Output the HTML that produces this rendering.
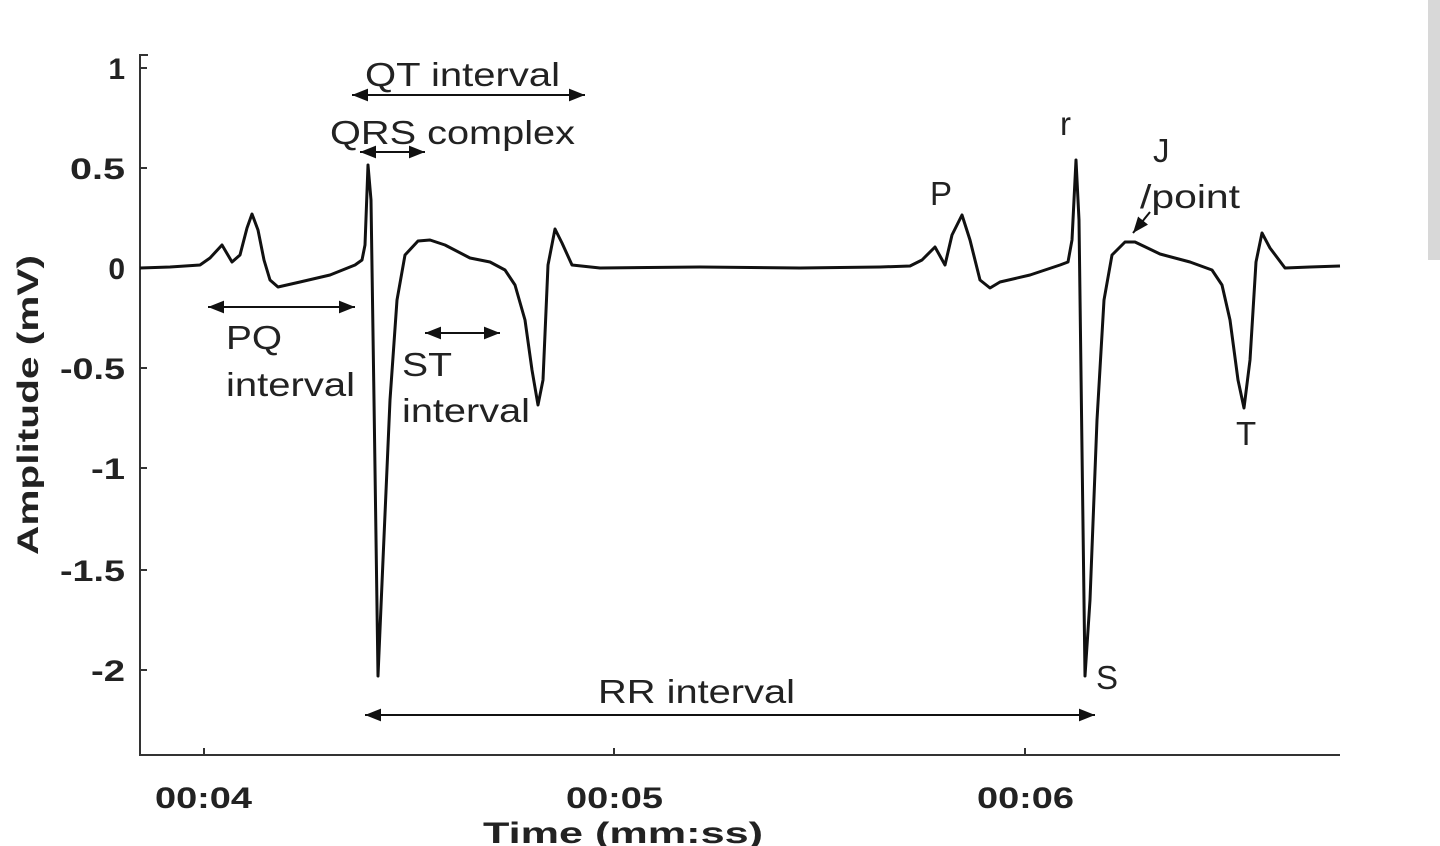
<!DOCTYPE html>
<html><head><meta charset="utf-8"><style>
html,body{margin:0;padding:0;background:#fff;}
svg{display:block;}
text{font-family:"Liberation Sans",sans-serif;fill:#222;}
.t{font-weight:bold;font-size:30px;}
.a{font-size:33px;}
</style></head><body>
<svg width="1440" height="846" viewBox="0 0 1440 846">
<defs>
<marker id="ar" viewBox="0 0 10 10" refX="10" refY="5" markerWidth="8" markerHeight="8" orient="auto-start-reverse"><path d="M0,1 L10,5 L0,9 z" fill="#111"/></marker>
</defs>
<rect x="1428" y="0" width="12" height="260" fill="#d8d8d8"/>
<path d="M148,55 L140,55 L140,755 L1340,755" fill="none" stroke="#333" stroke-width="2"/>
<g stroke="#333" stroke-width="2">
<line x1="140" y1="68" x2="147" y2="68"/><line x1="140" y1="168" x2="147" y2="168"/><line x1="140" y1="268" x2="147" y2="268"/><line x1="140" y1="368" x2="147" y2="368"/><line x1="140" y1="468" x2="147" y2="468"/><line x1="140" y1="570" x2="147" y2="570"/><line x1="140" y1="670" x2="147" y2="670"/>
<line x1="204" y1="755" x2="204" y2="748"/><line x1="614" y1="755" x2="614" y2="748"/><line x1="1025" y1="755" x2="1025" y2="748"/>
</g>
<g text-anchor="end">
<text x="125" y="79" class="t">1</text>
<text x="125" y="179" class="t" textLength="55" lengthAdjust="spacingAndGlyphs">0.5</text>
<text x="125" y="279" class="t">0</text>
<text x="125" y="379" class="t" textLength="65" lengthAdjust="spacingAndGlyphs">-0.5</text>
<text x="125" y="479" class="t" textLength="34" lengthAdjust="spacingAndGlyphs">-1</text>
<text x="125" y="581" class="t" textLength="65" lengthAdjust="spacingAndGlyphs">-1.5</text>
<text x="125" y="681" class="t" textLength="34" lengthAdjust="spacingAndGlyphs">-2</text>
</g>
<text x="155" y="808" class="t" textLength="97" lengthAdjust="spacingAndGlyphs">00:04</text>
<text x="566" y="808" class="t" textLength="97" lengthAdjust="spacingAndGlyphs">00:05</text>
<text x="977" y="808" class="t" textLength="97" lengthAdjust="spacingAndGlyphs">00:06</text>
<text x="483" y="843" class="t" font-size="33" textLength="280" lengthAdjust="spacingAndGlyphs">Time (mm:ss)</text>
<text transform="translate(38,555) rotate(-90)" class="t" font-size="33" textLength="300" lengthAdjust="spacingAndGlyphs">Amplitude (mV)</text>
<path fill="none" stroke="#111" stroke-width="3" stroke-linejoin="round" d="M140,268 L170,267 L200,265 L210,258 L222,245 L232,262 L240,255 L247,228 L252,214 L258,230 L264,260 L270,280 L278,287 L300,282 L330,275 L355,265 L362,260 L365,245 L368,165 L371,200 L374,400 L378,676 L383,560 L390,400 L397,300 L405,255 L418,241 L430,240 L445,245 L470,258 L490,262 L505,270 L515,285 L525,320 L532,370 L538,405 L543,380 L548,265 L555,229 L562,243 L572,265 L600,268 L700,267 L800,268 L880,267 L910,266 L922,260 L935,247 L945,265 L952,235 L962,215 L970,240 L980,280 L990,288 L1000,282 L1030,275 L1060,265 L1068,262 L1072,240 L1076,160 L1079,220 L1082,450 L1085,676 L1090,600 L1097,420 L1104,300 L1112,255 L1125,242 L1135,242 L1160,254 L1190,262 L1212,270 L1222,285 L1230,320 L1238,380 L1244,408 L1250,360 L1256,262 L1262,233 L1270,248 L1285,268 L1310,267 L1340,266"/>
<g stroke="#111" stroke-width="2" fill="none">
<line x1="352" y1="95" x2="585" y2="95" marker-start="url(#ar)" marker-end="url(#ar)"/>
<line x1="360" y1="152" x2="425" y2="152" marker-start="url(#ar)" marker-end="url(#ar)"/>
<line x1="208" y1="307" x2="355" y2="307" marker-start="url(#ar)" marker-end="url(#ar)"/>
<line x1="425" y1="333" x2="500" y2="333" marker-start="url(#ar)" marker-end="url(#ar)"/>
<line x1="365" y1="715" x2="1095" y2="715" marker-start="url(#ar)" marker-end="url(#ar)"/>
<line x1="1150" y1="212" x2="1133" y2="233" marker-end="url(#ar)"/>
</g>
<text x="365" y="86" class="a" textLength="195" lengthAdjust="spacingAndGlyphs">QT interval</text>
<text x="330" y="144" class="a" textLength="245" lengthAdjust="spacingAndGlyphs">QRS complex</text>
<text x="226" y="349" class="a" textLength="56" lengthAdjust="spacingAndGlyphs">PQ</text>
<text x="226" y="396" class="a" textLength="129" lengthAdjust="spacingAndGlyphs">interval</text>
<text x="402" y="376" class="a" textLength="50" lengthAdjust="spacingAndGlyphs">ST</text>
<text x="402" y="422" class="a" textLength="128" lengthAdjust="spacingAndGlyphs">interval</text>
<text x="930" y="205" class="a">P</text>
<text x="1060" y="135" class="a">r</text>
<text x="1153" y="162" class="a">J</text>
<text x="1140" y="208" class="a" textLength="100" lengthAdjust="spacingAndGlyphs">/point</text>
<text x="1096" y="689" class="a">S</text>
<text x="1236" y="445" class="a">T</text>
<text x="598" y="703" class="a" textLength="197" lengthAdjust="spacingAndGlyphs">RR interval</text>
</svg>
</body></html>
